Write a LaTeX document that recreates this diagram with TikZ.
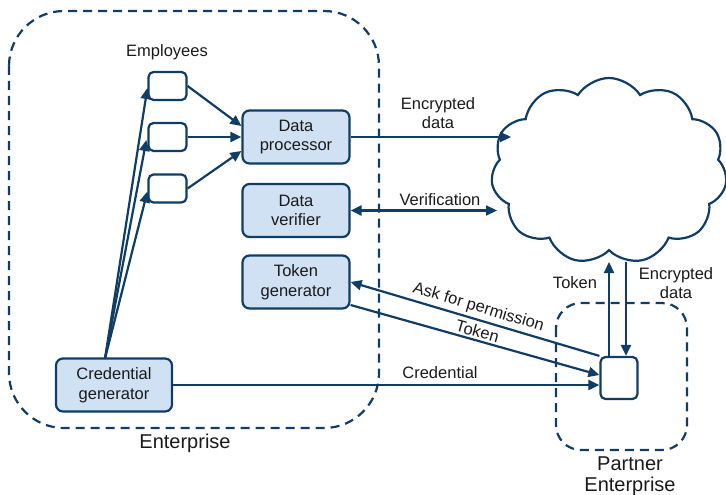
\documentclass[tikz,border=0pt]{standalone}
\usepackage{fontspec}
\setmainfont{Liberation Sans}
\usetikzlibrary{shapes.symbols,arrows.meta,calc}
\definecolor{ln}{HTML}{0F3D66}
\definecolor{fl}{HTML}{CFE1F2}
\definecolor{tx}{HTML}{1A1A1A}
\begin{document}
\begin{tikzpicture}[x=1pt,y=-1pt,
  every node/.style={font=\fontsize{16.5}{19.5}\selectfont, text=tx},
  box/.style={draw=ln, fill=fl, rounded corners=7pt, minimum width=107pt, minimum height=53pt, align=center, line width=2.2pt, inner sep=1pt},
  emp/.style={draw=ln, fill=white, rounded corners=5pt, minimum width=38pt, minimum height=28pt, line width=2.2pt, inner sep=0pt},
  arr/.style={draw=ln, line width=2.2pt, -{Triangle[length=11pt,width=10pt]}},
  grp/.style={draw=ln, dash pattern=on 9pt off 6pt, line width=2.2pt},
  big/.style={font=\fontsize{20}{21}\selectfont, align=center},
  slab/.style={sloped, inner sep=1pt}
]
\useasboundingbox (0,0) rectangle (726,495);
% groups
\draw[grp, rounded corners=55pt] (9,11) rectangle (379,428);
\draw[grp, rounded corners=25pt] (556,303) rectangle (687,450);
\node[big] (entlbl) at (185,443) {Enterprise};
\node[big] (plbl) at (630,476) {Partner\\Enterprise};
% employees
\node (emplbl) at (167,52) {Employees};
\node[emp] (e1) at (167.5,86) {};
\node[emp] (e2) at (167.5,137) {};
\node[emp] (e3) at (167.5,188.5) {};
% boxes
\node[box] (dp) at (296,137) {Data\\processor};
\node[box] (dv) at (296,210.5) {Data\\verifier};
\node[box] (tg) at (296,282) {Token\\generator};
\node[box, minimum width=116pt] (cg) at (114,385) {Credential\\generator};
\node[emp, minimum width=37pt, minimum height=42pt] (pb) at (619,378) {};
% cloud
\node[cloud, draw=ln, line width=2.2pt, cloud puffs=11, cloud puff arc=115, aspect=1.3, minimum width=236pt, minimum height=186pt] (cl) at (609,171) {};
\coordinate (c1) at (511,137);
\coordinate (c2) at (497,210.5);
\coordinate (c3) at (609,262);
\coordinate (c4) at (626,262);
\coordinate (cgtop) at (105,358.5);
% credential to employees
\draw[arr] (cgtop) -- ([yshift=-2pt]e1.west);
\draw[arr] (cgtop) -- ([xshift=-1pt,yshift=-3pt]e2.west);
\draw[arr] (cgtop) -- ([yshift=-3pt]e3.west);
% employees to processor
\draw[arr] (e1.east) -- ([yshift=11pt]dp.west);
\draw[arr] (e2.east) -- (dp.west);
\draw[arr] (e3.east) -- ([yshift=-14pt]dp.west);
% to cloud
\draw[arr] (dp.east) -- (c1);
\node[align=center] (l1) at (438,113) {Encrypted\\data};
\draw[arr, {Triangle[length=11pt,width=10pt]}-{Triangle[length=11pt,width=10pt]}] (dv.east) -- (c2);
\node (l2) at (440,200) {Verification};
% token generator
\draw[arr] (pb.north west) -- (tg.east) node[midway, above=2pt, slab] {Ask for permission};
\draw[arr] ([yshift=-23pt]tg.east) -- ([yshift=3pt]pb.west) node[midway, above=1pt, slab] {Token};
% credential
\draw[arr] (cg.east) -- (cg.east -| pb.west);
\node (l3) at (440,373) {Credential};
% partner to cloud
\draw[arr] (pb.north -| c3) -- (c3);
\draw[arr] (c4) -- (c4 |- pb.north);
\node (l4) at (575,283) {Token};
\node[align=center] (l5) at (676,283) {Encrypted\\data};
\end{tikzpicture}
\end{document}
